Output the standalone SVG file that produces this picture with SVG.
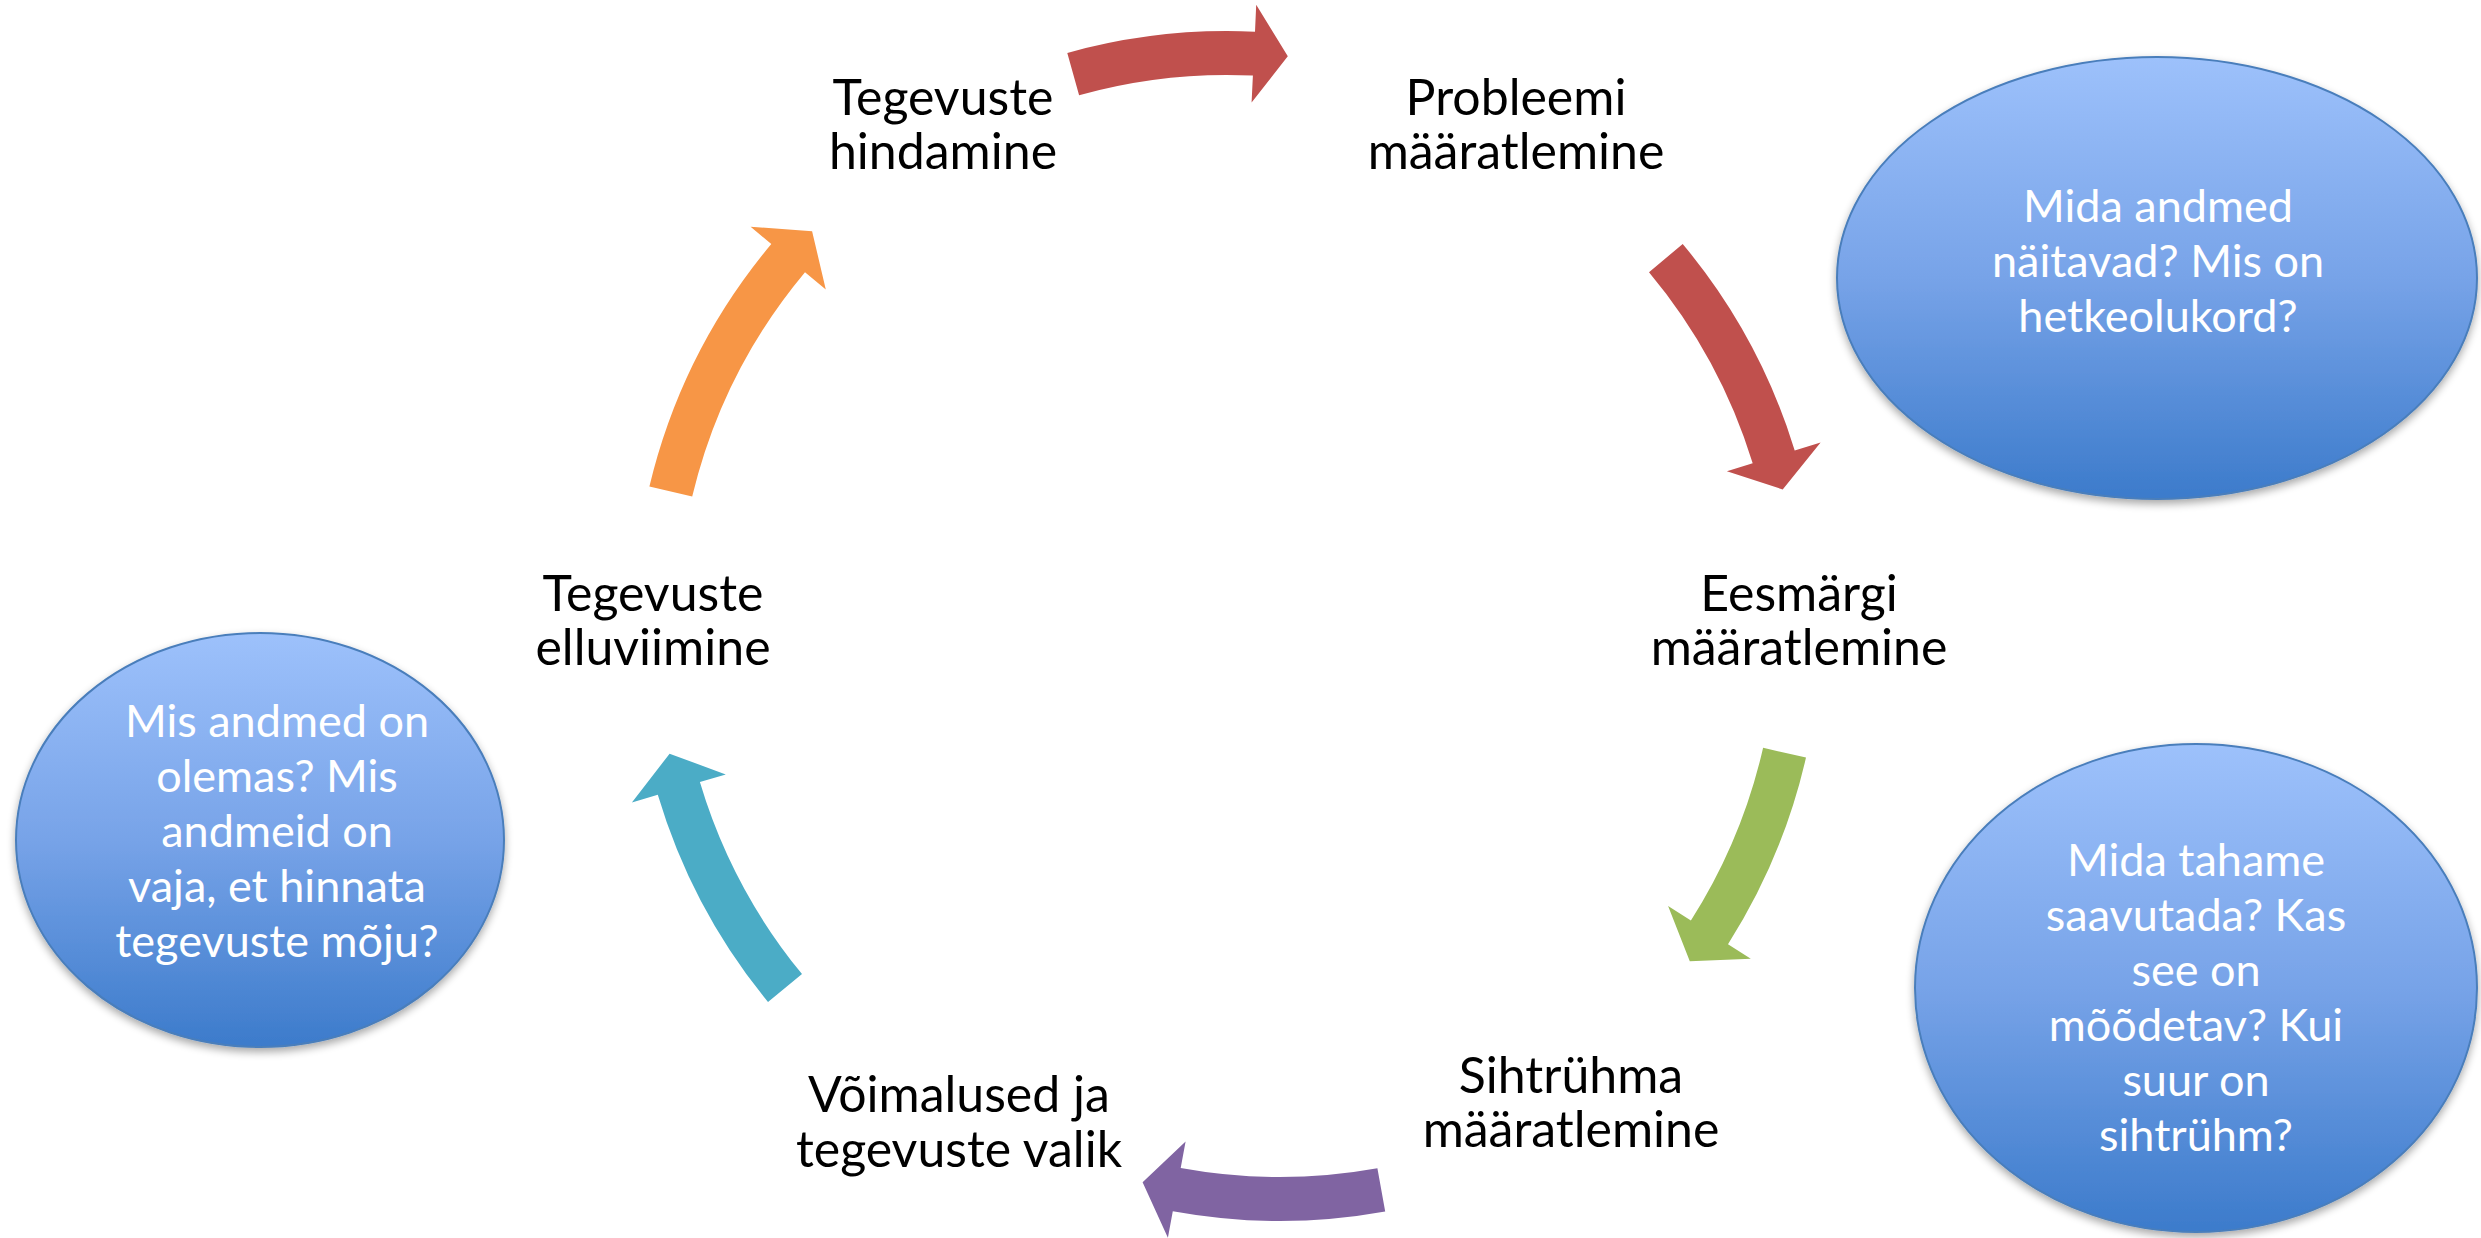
<svg xmlns="http://www.w3.org/2000/svg" width="2481" height="1238" viewBox="0 0 2481 1238">
<defs>
<linearGradient id="blueGrad" x1="0" y1="0" x2="0" y2="1">
<stop offset="0" stop-color="#9DC1FB"/>
<stop offset="0.5" stop-color="#77A3E8"/>
<stop offset="1" stop-color="#3C7BCB"/>
</linearGradient>
<filter id="shadow" x="-10%" y="-10%" width="120%" height="125%">
<feGaussianBlur in="SourceAlpha" stdDeviation="4"/>
<feOffset dx="0" dy="4" result="b"/>
<feComponentTransfer><feFuncA type="linear" slope="0.35"/></feComponentTransfer>
<feMerge><feMergeNode/><feMergeNode in="SourceGraphic"/></feMerge>
</filter>
</defs>
<style>
.lbl{font-family:Lato,"Open Sans","Liberation Sans",sans-serif;font-size:50px;fill:#000;text-anchor:middle}
.q{font-family:Lato,"Open Sans","Liberation Sans",sans-serif;font-size:45px;fill:#fff;text-anchor:middle}
.bubble{fill:url(#blueGrad);stroke:#4A7EBB;stroke-width:2;filter:url(#shadow)}
</style>
<rect width="2481" height="1238" fill="#fff"/>
<g id="connectors">
<path id="arrow-top" fill="#C0504D" d="M 1067.3 52.9 A 594 594 0 0 1 1255.0 31.7 L 1256.2 4.7 L 1287.8 56.3 L 1251.6 102.6 L 1252.9 75.6 A 550 550 0 0 0 1079.1 95.2 Z"/>
<path id="arrow-right-top" fill="#C0504D" d="M 1682.7 244.0 A 594 594 0 0 1 1794.7 450.4 L 1820.6 442.4 L 1782.7 489.5 L 1726.9 471.2 L 1752.7 463.3 A 550 550 0 0 0 1649.0 272.2 Z"/>
<path id="arrow-right-bottom" fill="#9BBB59" d="M 1806.0 757.6 A 594 594 0 0 1 1728.0 944.2 L 1750.8 958.7 L 1689.8 961.2 L 1668.1 906.0 L 1690.9 920.5 A 550 550 0 0 0 1763.1 747.8 Z"/>
<path id="arrow-bottom" fill="#8064A2" d="M 1385.2 1211.6 A 594 594 0 0 1 1172.8 1211.3 L 1167.9 1237.8 L 1142.6 1182.2 L 1185.6 1141.4 L 1180.7 1168.0 A 550 550 0 0 0 1377.4 1168.3 Z"/>
<path id="arrow-left-bottom" fill="#4BACC6" d="M 768.0 1002.0 A 594 594 0 0 1 657.8 794.7 L 631.9 802.4 L 669.6 753.7 L 725.8 774.4 L 699.9 782.1 A 550 550 0 0 0 802.0 974.1 Z"/>
<path id="arrow-left-top" fill="#F79646" d="M 649.4 486.4 A 594 594 0 0 1 771.3 244.0 L 750.6 226.7 L 812.1 231.2 L 825.8 289.5 L 805.0 272.2 A 550 550 0 0 0 692.2 496.6 Z"/>
</g>
<g id="node-tegevuste-hindamine">
<text class="lbl" x="943" y="115">Tegevuste</text>
<text class="lbl" x="943" y="169">hindamine</text>
</g>
<g id="node-probleemi">
<text class="lbl" x="1516" y="115">Probleemi</text>
<text class="lbl" x="1516" y="169">määratlemine</text>
</g>
<g id="node-eesmargi">
<text class="lbl" x="1799" y="611">Eesmärgi</text>
<text class="lbl" x="1799" y="665">määratlemine</text>
</g>
<g id="node-sihtruhma">
<text class="lbl" x="1571" y="1093">Sihtrühma</text>
<text class="lbl" x="1571" y="1147">määratlemine</text>
</g>
<g id="node-voimalused">
<text class="lbl" x="959" y="1112">Võimalused ja</text>
<text class="lbl" x="959" y="1167">tegevuste valik</text>
</g>
<g id="node-elluviimine">
<text class="lbl" x="653" y="611">Tegevuste</text>
<text class="lbl" x="653" y="665">elluviimine</text>
</g>
<g id="bubble-probleem">
<ellipse class="bubble" cx="2157" cy="278" rx="320" ry="221"/>
<text class="q" x="2158" y="222">Mida andmed</text>
<text class="q" x="2158" y="277">näitavad? Mis on</text>
<text class="q" x="2158" y="332">hetkeolukord?</text>
</g>
<g id="bubble-eesmark">
<ellipse class="bubble" cx="2196" cy="988" rx="281" ry="244"/>
<text class="q" x="2196" y="876">Mida tahame</text>
<text class="q" x="2196" y="931">saavutada? Kas</text>
<text class="q" x="2196" y="986">see on</text>
<text class="q" x="2196" y="1041">mõõdetav? Kui</text>
<text class="q" x="2196" y="1096">suur on</text>
<text class="q" x="2196" y="1151">sihtrühm?</text>
</g>
<g id="bubble-andmed">
<ellipse class="bubble" cx="260" cy="840" rx="244" ry="207"/>
<text class="q" x="277" y="737">Mis andmed on</text>
<text class="q" x="277" y="792">olemas? Mis</text>
<text class="q" x="277" y="847">andmeid on</text>
<text class="q" x="277" y="902">vaja, et hinnata</text>
<text class="q" x="277" y="957">tegevuste mõju?</text>
</g>
</svg>
